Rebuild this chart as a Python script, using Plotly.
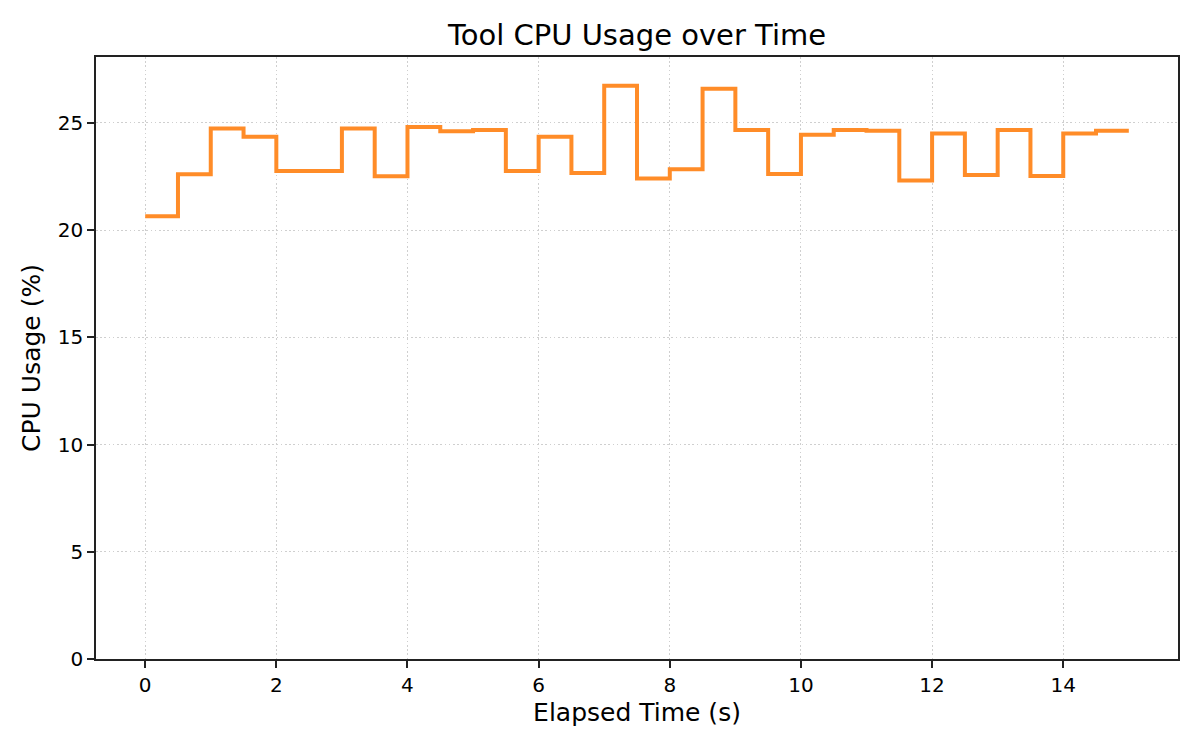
import plotly.graph_objects as go

elapsed_s = [0.0, 0.5, 1.0, 1.5, 2.0, 2.5, 3.0, 3.5, 4.0, 4.5, 5.0, 5.5, 6.0, 6.5, 7.0, 7.5,
             8.0, 8.5, 9.0, 9.5, 10.0, 10.5, 11.0, 11.5, 12.0, 12.5, 13.0, 13.5, 14.0, 14.5, 15.0]
cpu_pct = [20.65, 22.60, 24.74, 24.35, 22.76, 22.76, 24.74, 22.51, 24.81, 24.61, 24.67, 22.76,
           24.35, 22.66, 26.73, 22.40, 22.84, 26.59, 24.67, 22.62, 24.44, 24.67, 24.63, 22.31,
           24.50, 22.57, 24.67, 22.52, 24.50, 24.63, 24.63]
x_ticks = [0, 2, 4, 6, 8, 10, 12, 14]
y_ticks = [0, 5, 10, 15, 20, 25]

FONT = "DejaVu Sans"

fig = go.Figure()
fig.add_trace(go.Scatter(
    x=elapsed_s, y=cpu_pct, mode="lines",
    line=dict(shape="hv", color="#FF8C28", width=4),
    showlegend=False,
))

axis_common = dict(
    showline=True, linecolor="#222222", linewidth=1.6, mirror=True,
    ticks="outside", ticklen=7, tickwidth=1.6, tickcolor="#222222",
    showgrid=True, gridcolor="#cfcfcf", griddash="1.6px,2.6px", gridwidth=1.3,
    zeroline=False,
    tickfont=dict(family=FONT, size=20, color="black"),
)

fig.update_layout(
    width=1200, height=750,
    paper_bgcolor="white", plot_bgcolor="white",
    margin=dict(l=88, r=30, t=49, b=99),
    font=dict(family=FONT, color="black"),
    title=dict(text="Tool CPU Usage over Time", x=629 / 1200, xanchor="center",
               y=1 - 37 / 750, yanchor="bottom", yref="container",
               font=dict(family=FONT, size=29, color="black")),
    xaxis=dict(range=[-0.75, 15.75], tickvals=x_ticks, ticktext=[str(v) for v in x_ticks],
               title=dict(text="Elapsed Time (s)", font=dict(family=FONT, size=25), standoff=8),
               **axis_common),
    yaxis=dict(range=[0, 28.07], tickvals=y_ticks, ticktext=[str(v) for v in y_ticks],
               title=dict(text="CPU Usage (%)", font=dict(family=FONT, size=25), standoff=10),
               **axis_common),
)

fig.write_html("out.html")
